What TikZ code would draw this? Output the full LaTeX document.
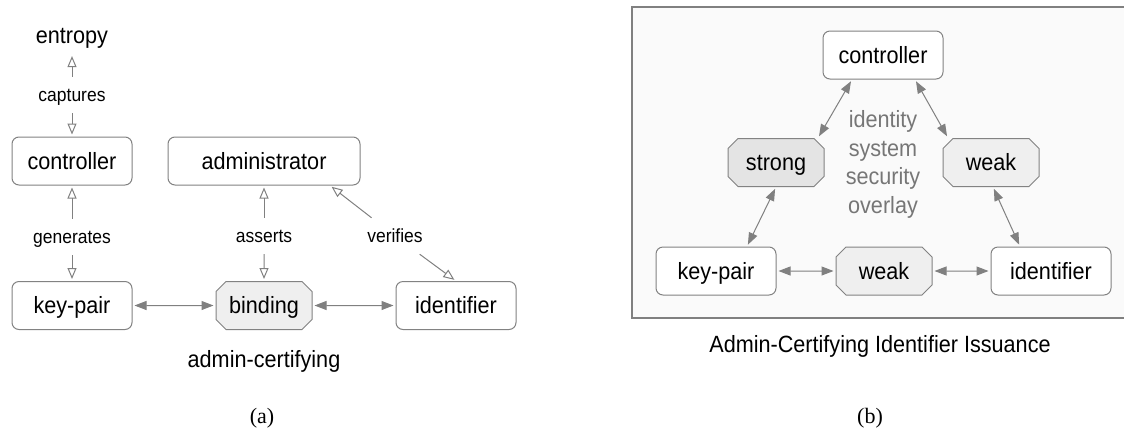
\documentclass[tikz,border=0pt]{standalone}
\usepackage{fontspec}
\setmainfont{Liberation Sans}[FakeStretch=0.92]
\newfontfamily\capfont{Liberation Serif}
\usetikzlibrary{shapes.misc,arrows.meta}
\definecolor{linegray}{RGB}{128,128,128}
\definecolor{boxgray}{RGB}{130,130,130}
\definecolor{lightfill}{RGB}{239,239,239}
\definecolor{darkfill}{RGB}{228,228,228}
\definecolor{panelfill}{RGB}{250,250,250}
\definecolor{overlaytext}{RGB}{118,118,118}

\begin{document}
\begin{tikzpicture}[x=1pt,y=-1pt,
  box/.style={draw=boxgray,line width=1pt,fill=white,rounded corners=7pt,minimum width=120pt,minimum height=48pt,inner sep=0pt,text height=16pt,text depth=0pt,font=\fontsize{23.5}{28}\selectfont},
  oct/.style={box,sharp corners,chamfered rectangle,chamfered rectangle xsep=5pt,chamfered rectangle ysep=5pt,minimum width=96pt,fill=lightfill},
  lbl/.style={inner sep=0pt,text height=24pt,text depth=12pt,font=\fontsize{19}{23}\selectfont},
  big/.style={inner sep=0pt,font=\fontsize{23.5}{28}\selectfont},
  openarr/.style={draw=linegray,line width=1pt,-{Triangle[open,length=11pt,width=9pt]},shorten >=2pt},
  biarr/.style={draw=linegray,line width=1pt,{Triangle[length=12pt,width=9pt]}-{Triangle[length=12pt,width=9pt]},shorten >=2pt,shorten <=2pt}]
\useasboundingbox (0,0) rectangle (1124,445);
% panel (b) background
\fill[panelfill] (632,7) rectangle (1124,318);
\draw[linegray,line width=1.2pt] (1124,7) -- (632,7) -- (632,318) -- (1124,318);

% (a) admin-certifying
\node[big,anchor=base] (ent) at (72,43) {entropy};
\node[lbl] (cap) at (72,95) {captures};
\node[box] (ctrl) at (72,161) {controller};
\node[box,minimum width=192pt] (adm) at (264,161) {administrator};
\node[lbl] (gen) at (72,237) {generates};
\node[lbl] (asr) at (264,236) {asserts};
\node[lbl] (ver) at (395,236) {verifies};
\node[box] (kp) at (72,305.5) {key-pair};
\node[oct] (bind) at (264,305.5) {binding};
\node[box] (ident) at (456,305.5) {identifier};
\node[big,anchor=base] (acert) at (264,367) {admin-certifying};

\draw[openarr,shorten >=8pt] (cap) -- (ent);
\draw[openarr] (cap) -- (ctrl);
\draw[openarr] (gen) -- (ctrl);
\draw[openarr] (gen) -- (kp);
\draw[openarr] (asr) -- (adm);
\draw[openarr] (asr) -- (bind);
\draw[openarr] (ver) -- ([xshift=66pt]adm.south);
\draw[openarr] (ver) -- (ident.north);
\draw[biarr] (kp) -- (bind);
\draw[biarr] (bind) -- (ident);

% (b) overlay
\node[box] (ctrlb) at (883,55) {controller};
\node[oct,fill=darkfill] (strong) at (776,162.5) {strong};
\node[oct] (weaka) at (991,162.5) {weak};
\node[box] (kpb) at (716,271) {key-pair};
\node[oct] (weakb) at (884,271) {weak};
\node[box] (identb) at (1051,271) {identifier};
\node[big,align=center,text=overlaytext,font=\fontsize{23.5}{28.7}\selectfont] (ovl) at (883,164.5) {identity\\system\\security\\overlay};
\node[big,anchor=base] (issue) at (880,352) {Admin-Certifying Identifier Issuance};

\draw[biarr] ([xshift=-31pt]ctrlb.south) -- ([xshift=42pt]strong.north);
\draw[biarr] ([xshift=32pt]ctrlb.south) -- ([xshift=-43pt]weaka.north);
\draw[biarr] (strong.south) -- ([xshift=31pt]kpb.north);
\draw[biarr] ([xshift=2pt]weaka.south) -- ([xshift=-31pt]identb.north);
\draw[biarr] (kpb) -- (weakb);
\draw[biarr] (weakb) -- (identb);

%Text
\node[anchor=base,font=\capfont\fontsize{22}{26}\selectfont] (suba) at (262,423) {(a)};
\node[anchor=base,font=\capfont\fontsize{22}{26}\selectfont] (subb) at (870,423) {(b)};
\end{tikzpicture}
\end{document}
